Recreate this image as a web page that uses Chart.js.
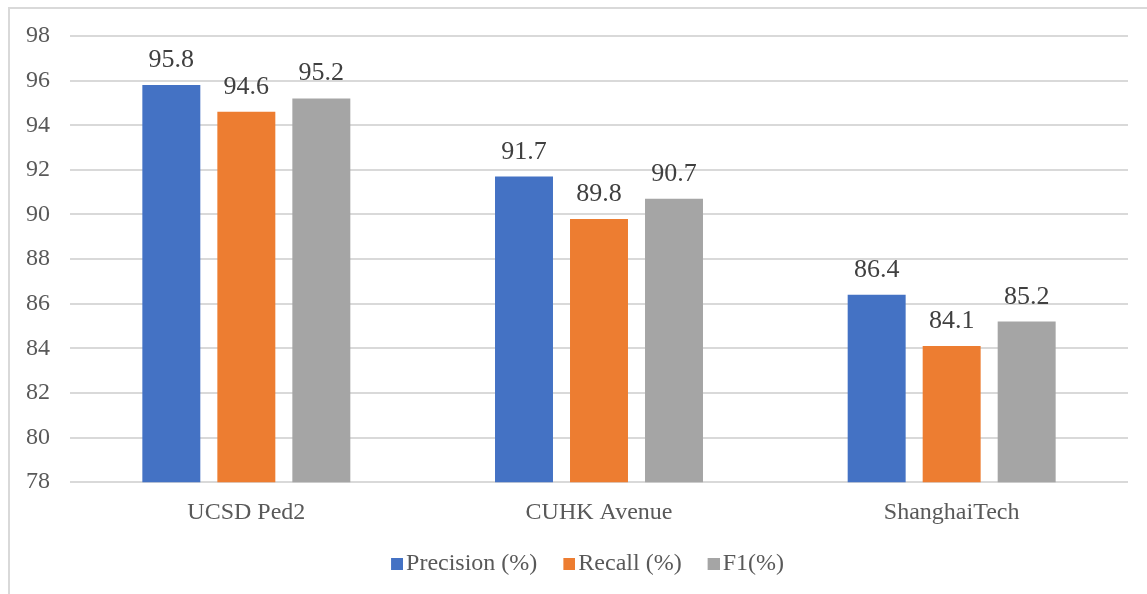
<!DOCTYPE html>
<html>
<head>
<meta charset="utf-8">
<script src="https://cdn.jsdelivr.net/npm/chart.js@4/dist/chart.umd.min.js"></script>
<style>
  html, body { margin: 0; padding: 0; background: #fff; }
  #wrap { position: relative; width: 1147px; height: 594px; }
  #frame { position: absolute; left: 8px; top: 7px; right: 0; bottom: 0;
           border-top: 2px solid #d9d9d9; border-left: 2px solid #d9d9d9; }
  #chart { position: absolute; left: 0; top: 0; }
</style>
</head>
<body>
<div id="wrap">
  <div id="frame"></div>
  <canvas id="chart" width="1147" height="594"></canvas>
</div>
<script>
'use strict';

const categories = ['UCSD Ped2', 'CUHK Avenue', 'ShanghaiTech'];
const seriesNames = ['Precision (%)', 'Recall (%)', 'F1(%)'];
const precision = [95.8, 91.7, 86.4];
const recall = [94.6, 89.8, 84.1];
const f1 = [95.2, 90.7, 85.2];
const yTicks = [78, 80, 82, 84, 86, 88, 90, 92, 94, 96, 98];

const FONT = '"Liberation Serif", "Times New Roman", serif';
const COLORS = ['#4472C4', '#ED7D31', '#A5A5A5'];

// legend marker: 12px square sitting at the right of a small transparent canvas,
// so the text ends up close to the square like in Excel
function legendSquare(color) {
  const c = document.createElement('canvas');
  c.width = 20;
  c.height = 12;
  const g = c.getContext('2d');
  g.fillStyle = color;
  g.fillRect(8, 0, 12, 12);
  return c;
}

// values above bars
const valueLabels = {
  id: 'valueLabels',
  afterDatasetsDraw(chart) {
    const ctx = chart.ctx;
    ctx.save();
    ctx.font = '26px ' + FONT;
    ctx.fillStyle = '#404040';
    ctx.textAlign = 'center';
    ctx.textBaseline = 'alphabetic';
    chart.data.datasets.forEach((ds, i) => {
      chart.getDatasetMeta(i).data.forEach((bar, j) => {
        ctx.fillText(ds.data[j].toFixed(1), bar.x, bar.y - 18);
      });
    });
    ctx.restore();
  }
};

// nudge the legend box to where it sits in the original
const legendShift = {
  id: 'legendShift',
  afterLayout(chart) {
    const lg = chart.legend;
    lg.left += 21; lg.right += 21;
    lg.top -= 8; lg.bottom -= 8;
  }
};

new Chart(document.getElementById('chart'), {
  type: 'bar',
  data: {
    labels: categories,
    datasets: [
      { label: seriesNames[0], data: precision, backgroundColor: COLORS[0], pointStyle: legendSquare(COLORS[0]) },
      { label: seriesNames[1], data: recall, backgroundColor: COLORS[1], pointStyle: legendSquare(COLORS[1]) },
      { label: seriesNames[2], data: f1, backgroundColor: COLORS[2], pointStyle: legendSquare(COLORS[2]) }
    ]
  },
  options: {
    responsive: false,
    animation: false,
    layout: { padding: { left: 6, right: 19, top: 36, bottom: 0 } },
    datasets: { bar: { categoryPercentage: 0.638, barPercentage: 0.773 } },
    scales: {
      x: {
        grid: { display: false },
        border: { display: false },
        afterFit: (scale) => { scale.height -= 2; },
        ticks: { font: { family: FONT, size: 24 }, color: '#595959', padding: 8 }
      },
      y: {
        min: 78,
        max: 98,
        afterBuildTicks: (scale) => { scale.ticks = yTicks.map(v => ({ value: v })); },
        grid: { color: '#d9d9d9', lineWidth: 2, drawTicks: false },
        border: { display: false },
        ticks: { font: { family: FONT, size: 24 }, color: '#595959', padding: 20 }
      }
    },
    plugins: {
      legend: {
        position: 'bottom',
        labels: {
          font: { family: FONT, size: 24 },
          color: '#595959',
          usePointStyle: true,
          pointStyleWidth: 2,
          boxHeight: 12,
          padding: 27
        }
      },
      tooltip: { enabled: false }
    }
  },
  plugins: [valueLabels, legendShift]
});
</script>
</body>
</html>
